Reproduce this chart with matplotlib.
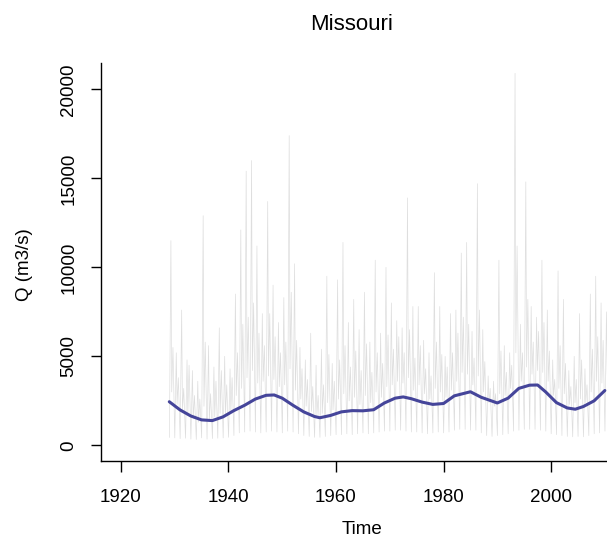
import numpy as np
import matplotlib
matplotlib.use('Agg')
import matplotlib.pyplot as plt

plt.rcParams['font.family'] = ['Liberation Sans', 'DejaVu Sans']

# discharge record, one set of values per year
years = np.arange(1929, 2011)

# winter low flow
q_low = [450, 420, 380, 400, 350, 330, 420, 350, 380, 400, 420, 450,
         550, 700, 750, 800, 750, 700, 750, 800, 750, 700,
         800, 750, 650, 550, 500, 450, 450, 500, 550, 600,
         600, 650, 600, 650, 700, 650, 700, 750, 800, 800,
         850, 850, 800, 750, 750, 700, 650, 700, 750, 700,
         750, 850, 900, 900, 850, 850, 700, 550, 500, 550,
         600, 650, 800, 850, 900, 900, 900, 850, 800, 650,
         600, 550, 500, 480, 500, 480, 550, 650, 700, 800]

# spring flood peak
q_peak = [11500, 5200, 7600, 4800, 4200, 3600, 12900, 5600, 4400, 6600, 5000, 4300,
          8500, 12100, 15400, 16000, 11200, 7400, 13700, 9000, 6900, 8300,
          17400, 10200, 5500, 4800, 6300, 4500, 5400, 9500, 4600, 9300,
          11400, 6900, 8200, 6500, 8600, 5800, 10400, 6300, 10000, 8000,
          7000, 6600, 13900, 7800, 7800, 5900, 5200, 9700, 7800, 5000,
          7400, 7600, 10800, 11400, 6400, 14700, 6500, 3900, 3600, 10400,
          5600, 5200, 20900, 6800, 14800, 7800, 7200, 10400, 7600, 4800,
          9800, 8200, 4200, 5000, 7400, 4300, 8500, 9500, 8000, 7500]

# summer flow
q_mid = [3000, 2300, 2000, 1700, 1500, 1300, 2200, 1400, 1600, 1800, 1700, 1900,
         2800, 3200, 3800, 4200, 3500, 3600, 3900, 3700, 3300, 3400,
         4300, 3100, 2600, 2200, 1900, 1700, 1800, 2400, 2000, 2600,
         2900, 2500, 2700, 2300, 2800, 2400, 3000, 2700, 3300, 3400,
         3600, 3500, 3800, 3100, 3400, 2900, 2600, 3200, 3000, 2700,
         3100, 3600, 4100, 4000, 3400, 3900, 3000, 2400, 2200, 2900,
         2800, 3200, 5200, 3600, 4400, 4000, 4200, 4100, 3600, 2800,
         3200, 2900, 2300, 2400, 2600, 2400, 3000, 3600, 3500, 4000]

# autumn secondary peak
q_fall = [5500, 3800, 3200, 4500, 2800, 2600, 5800, 2900, 3600, 4200, 3400, 3800,
          5200, 6800, 7200, 8000, 6300, 5600, 7400, 6100, 5200, 5800,
          8600, 5900, 4300, 3700, 3300, 2800, 3400, 5100, 3600, 4800,
          5600, 4400, 5300, 4200, 5700, 4100, 5200, 4600, 6200, 5400,
          6100, 5200, 6500, 4900, 5600, 4300, 3900, 5800, 5100, 4400,
          5200, 6300, 7200, 6800, 4900, 7600, 4700, 3200, 2900, 5300,
          4100, 4500, 11200, 5200, 8200, 5800, 6400, 6900, 5300, 3700,
          5600, 4600, 3300, 3700, 4800, 3400, 5400, 6100, 5900, 6200]

# smoothed trend
smooth_years = [1929, 1931, 1933, 1935, 1937, 1939, 1941, 1943, 1945, 1947, 1948.5,
                1950, 1952, 1954, 1956, 1957, 1959, 1961, 1963, 1965, 1967, 1969,
                1971, 1972.5, 1974, 1976, 1978, 1980, 1982, 1985, 1987, 1990, 1992,
                1994, 1996, 1997.5, 1999, 2001, 2003, 2004.5, 2006, 2008, 2010]
smooth_q = [2450, 1990, 1650, 1430, 1390, 1600, 1950, 2250, 2600, 2810, 2830,
            2650, 2250, 1880, 1620, 1550, 1680, 1880, 1950, 1940, 2000, 2380,
            2650, 2720, 2620, 2430, 2300, 2350, 2780, 3010, 2700, 2380, 2650,
            3200, 3380, 3390, 3000, 2400, 2100, 2030, 2180, 2500, 3080]

x_ticks = [1920, 1940, 1960, 1980, 2000]
y_ticks = [0, 5000, 10000, 15000, 20000]

# build the raw series: low, peak, summer, autumn within each year
t_raw = []
q_raw = []
for i, yr in enumerate(years):
  t_raw += [yr + 0.02, yr + 0.30, yr + 0.45, yr + 0.68]
  q_raw += [q_low[i], q_peak[i], q_mid[i], q_fall[i]]

fig = plt.figure(figsize=(6.07, 5.40), dpi=100)
ax = fig.add_axes([101/607, 79/540, 506/607, 398/540])

ax.plot(t_raw, q_raw, color='#dedede', lw=0.5)
ax.plot(smooth_years, smooth_q, color='#45459a', lw=2.2, solid_capstyle='round')

ax.set_xlim(1916.3, 2010.4)
ax.set_ylim(-880, 21480)
ax.set_xticks(x_ticks)
ax.set_yticks(y_ticks)
ax.set_yticklabels([str(v) for v in y_ticks], rotation=90, va='center')

for side in ['top', 'right']:
  ax.spines[side].set_visible(False)
for side in ['left', 'bottom']:
  ax.spines[side].set_linewidth(1.0)

ax.tick_params(axis='x', length=8, width=1.0, pad=12, labelsize=13.5)
ax.tick_params(axis='y', length=7, width=1.0, pad=10, labelsize=13.5)

# axis titles and main title
fig.text(362/607, 1 - 530/540, 'Time', ha='center', va='center', fontsize=13.5)
fig.text(25/607, 1 - 265/540, 'Q (m3/s)', ha='center', va='center', rotation=90, fontsize=13.5)
fig.text(352/607, 1 - 25/540, 'Missouri', ha='center', va='center', fontsize=16)

plt.savefig('out.png', dpi=100)
